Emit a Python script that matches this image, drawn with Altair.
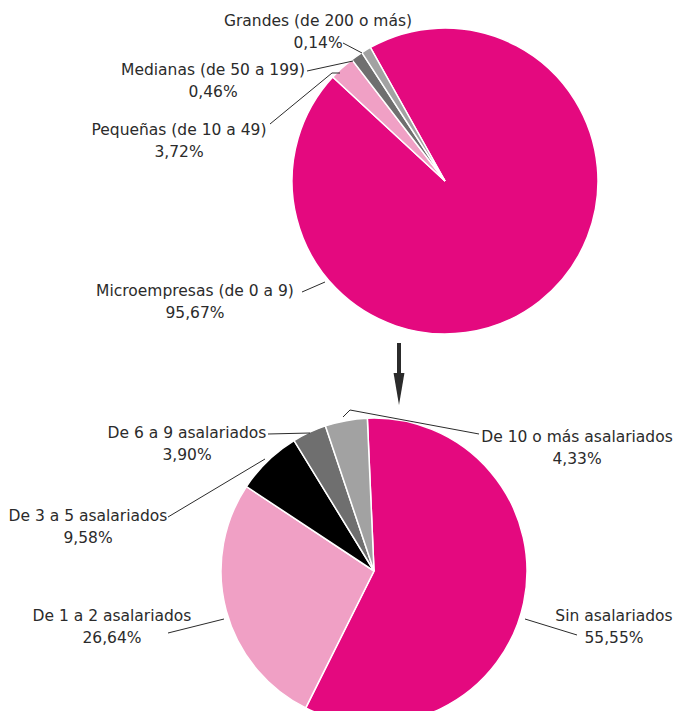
import altair as alt
import pandas as pd
import math

# page offset (body margin) -> chart coordinates
OFF = 8

# ---------------- data ----------------
top_names = ["Microempresas (de 0 a 9)", "Pequeñas (de 10 a 49)",
             "Medianas (de 50 a 199)", "Grandes (de 200 o más)"]
top_pct = ["95,67%", "3,72%", "0,46%", "0,14%"]
# slice sizes (degrees) as drawn in the picture
top_drawn = [342.0, 9.7, 4.6, 3.7]
top_colors = ["#E4097F", "#F0A0C5", "#6F6F6F", "#A2A2A2"]

bot_names = ["Sin asalariados", "De 1 a 2 asalariados", "De 3 a 5 asalariados",
             "De 6 a 9 asalariados", "De 10 o más asalariados"]
bot_pct = ["55,55%", "26,64%", "9,58%", "3,90%", "4,33%"]
bot_drawn = [209.0, 97.0, 25.0, 13.0, 16.0]
bot_colors = ["#E4097F", "#F0A0C5", "#000000", "#6F6F6F", "#A2A2A2"]

# pie geometry (page px)
TOP_C = (445, 181)
BOT_C = (374, 571)
R = 153
TOP_START = -29.2   # degrees, clockwise from 12 o'clock
BOT_START = -2.5

# label anchor (centre of first line, page px)
top_lab = [(195, 291), (179, 130), (213, 70), (318, 21)]
bot_lab = [(614, 616), (112, 616), (88, 516), (187, 433), (577, 437)]

# leader lines (page px)
leaders = [
    [(302, 292), (325, 282)],
    [(270, 124), (332, 73), (340, 73)],
    [(307, 71), (353, 61)],
    [(343, 43), (362, 53)],
    [(525, 619), (577, 635)],
    [(168, 633), (224, 619)],
    [(168, 517), (265, 459)],
    [(268, 434), (310, 433)],
    [(479, 434), (350, 410), (343, 417)],
]

W, H = 665, 703


def pie(names, drawn, colors, centre, start):
    df = pd.DataFrame({"name": names, "deg": drawn, "color": colors,
                       "ord": list(range(len(names)))})
    rng = [math.radians(start), math.radians(start) + 2 * math.pi]
    return alt.Chart(df).mark_arc(stroke="white", strokeWidth=1.5).encode(
        theta=alt.Theta("deg:Q", stack=True,
                        scale=alt.Scale(domain=[0, 360], range=rng)),
        order=alt.Order("ord:Q"),
        color=alt.Color("color:N", scale=None),
        x=alt.value(centre[0] - OFF),
        y=alt.value(centre[1] - OFF),
        radius=alt.value(R),
    )


top_pie = pie(top_names, top_drawn, top_colors, TOP_C, TOP_START)
bot_pie = pie(bot_names, bot_drawn, bot_colors, BOT_C, BOT_START)

lab_rows = []
for n, p, (x, y) in zip(top_names + bot_names, top_pct + bot_pct, top_lab + bot_lab):
    lab_rows.append({"txt": n + "\n" + p, "x": x - OFF, "y": y - OFF})
labels = alt.Chart(pd.DataFrame(lab_rows)).mark_text(
    font="DejaVu Sans", fontSize=15.5, color="#2b2b2b", align="center",
    baseline="middle", lineBreak="\n", lineHeight=22,
).encode(
    x=alt.X("x:Q", scale=None), y=alt.Y("y:Q", scale=None), text="txt:N"
)

lrows = []
for i, pts in enumerate(leaders):
    for j, (x, y) in enumerate(pts):
        lrows.append({"g": i, "k": j, "x": x - OFF, "y": y - OFF})
lines = alt.Chart(pd.DataFrame(lrows)).mark_line(
    color="#2b2b2b", strokeWidth=1
).encode(
    x=alt.X("x:Q", scale=None), y=alt.Y("y:Q", scale=None),
    detail="g:N", order="k:Q"
)

# arrow between the pies
arrow_shaft = alt.Chart(pd.DataFrame({"x": [399 - OFF], "y": [343 - OFF], "y2": [378 - OFF]})).mark_rule(
    color="#2b2b2b", strokeWidth=4
).encode(x=alt.X("x:Q", scale=None), y=alt.Y("y:Q", scale=None), y2="y2:Q")
arrow_head = alt.Chart(pd.DataFrame({"x": [399 - OFF], "y": [389 - OFF]})).mark_point(
    shape="M-0.34,-1L0.34,-1L0,1Z", filled=True, color="#2b2b2b", size=1024,
    opacity=1, strokeWidth=0
).encode(x=alt.X("x:Q", scale=None), y=alt.Y("y:Q", scale=None))

chart = alt.layer(
    top_pie, bot_pie, lines, labels, arrow_shaft, arrow_head
).resolve_scale(theta="independent").properties(
    width=W, height=H, autosize=alt.AutoSizeParams(type="none"), padding=0,
    background="white"
).configure_view(stroke=None)

chart.save("out.html", embed_options={"renderer": "svg", "actions": False})
